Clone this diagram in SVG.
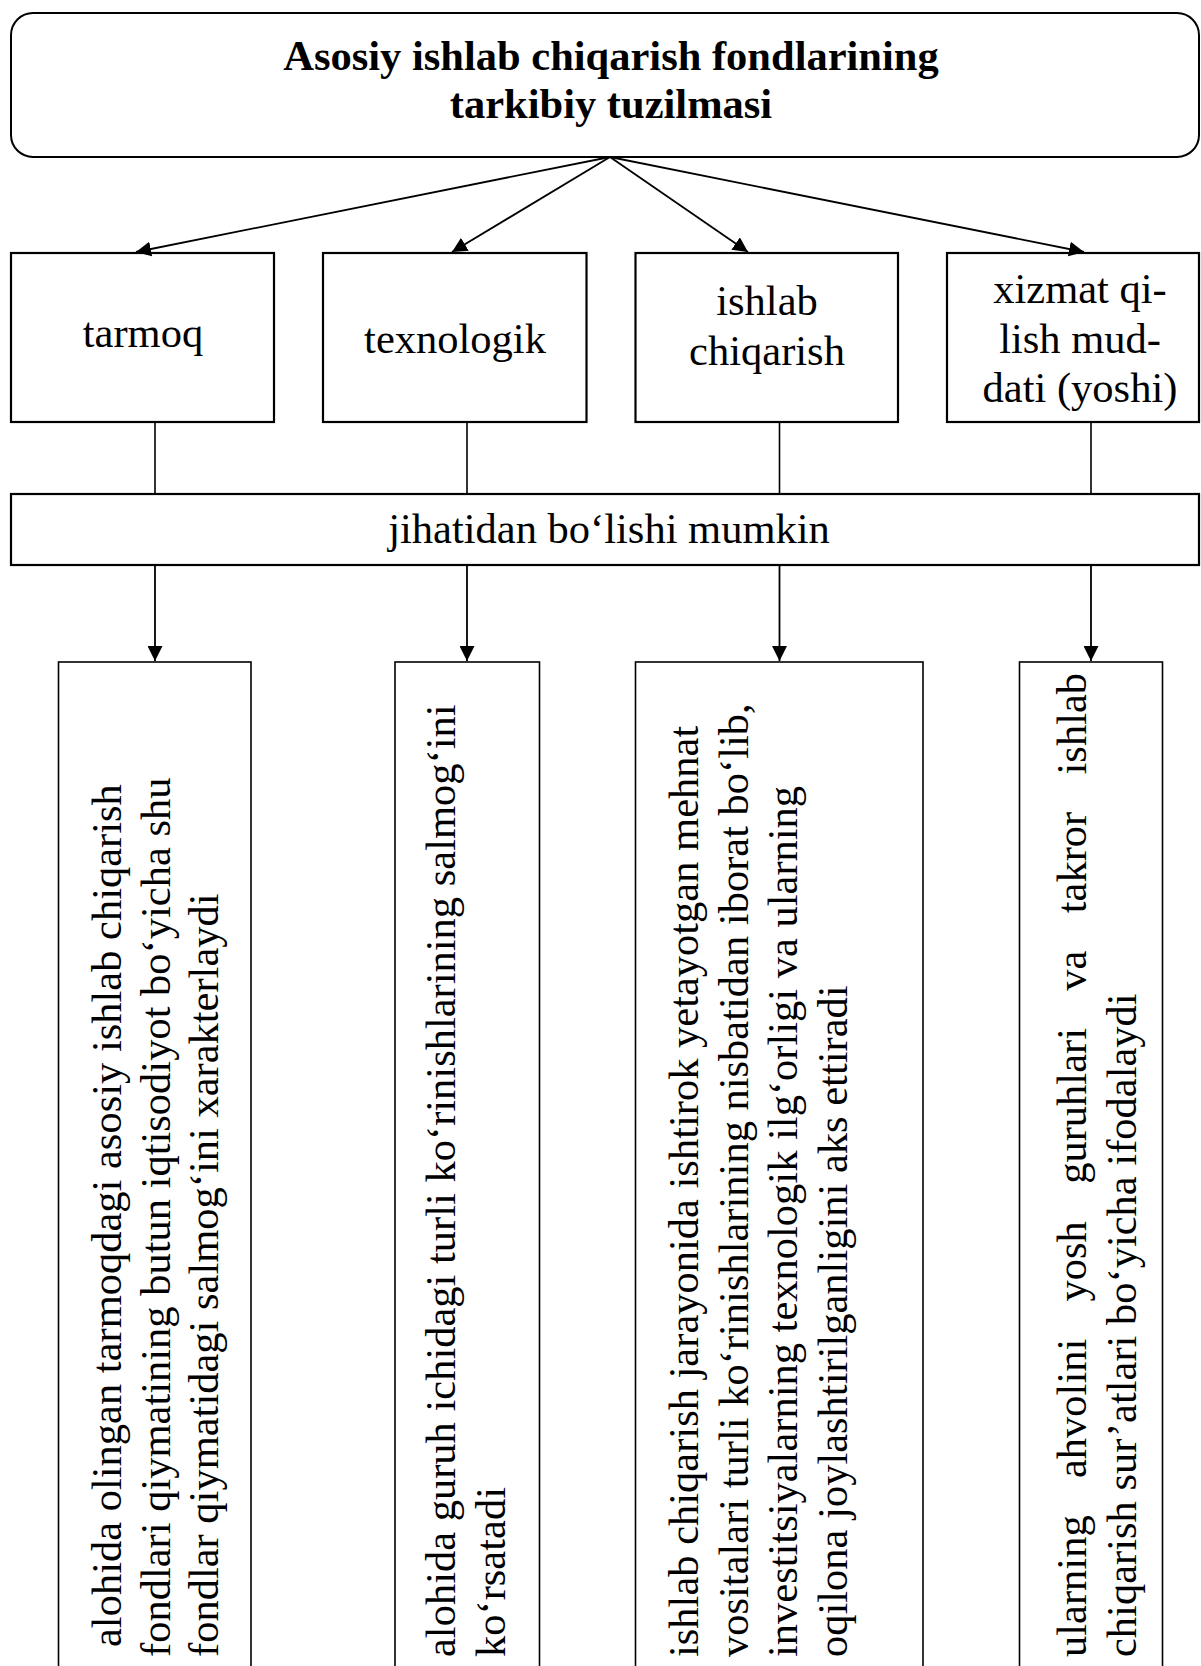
<svg xmlns="http://www.w3.org/2000/svg" width="1201" height="1666" viewBox="0 0 1201 1666">
<style>
.box{fill:#fff;stroke:#000;stroke-width:2.2}
.lbox{fill:#fff;stroke:#000;stroke-width:1.6}
.t{font-family:"Liberation Serif","Times New Roman",serif;font-size:42.5px;fill:#000}
.c{text-anchor:middle}
.b{font-weight:bold}
.con{stroke:#000;stroke-width:1.6;fill:none}
.arr{stroke:#000;stroke-width:1.8;fill:none;marker-end:url(#ah)}
</style>
<defs>
<marker id="ah" markerWidth="16" markerHeight="15" refX="15" refY="7.5" orient="auto" markerUnits="userSpaceOnUse">
<path d="M0,0 L15,7.5 L0,15 z" fill="#000"/>
</marker>
</defs>
<rect width="1201" height="1666" fill="#fff"/>

<g id="title">
<rect x="11" y="13" width="1188" height="144" rx="22" ry="22" class="box" style="stroke-width:2"/>
<text class="t c b" x="611" y="70">Asosiy ishlab chiqarish fondlarining</text>
<text class="t c b" x="611" y="118">tarkibiy tuzilmasi</text>
</g>

<g id="n-tarmoq">
<rect x="11" y="253" width="263" height="169" class="box"/>
<text class="t c" x="143" y="347">tarmoq</text>
</g>
<g id="n-texnologik">
<rect x="323" y="253" width="263.5" height="169" class="box"/>
<text class="t c" x="455" y="353">texnologik</text>
</g>
<g id="n-ishlab">
<rect x="635.5" y="253" width="262.5" height="169" class="box"/>
<text class="t c" x="767" y="315">ishlab</text>
<text class="t c" x="767" y="365">chiqarish</text>
</g>
<g id="n-xizmat">
<rect x="947" y="253" width="252" height="169" class="box"/>
<text class="t c" x="1080" y="303">xizmat qi-</text>
<text class="t c" x="1080" y="353">lish mud-</text>
<text class="t c" x="1080" y="402">dati (yoshi)</text>
</g>

<g id="n-jihatidan">
<rect x="11" y="494" width="1188" height="71" class="box"/>
<text class="t c" x="609" y="543">jihatidan bo‘lishi mumkin</text>
</g>

<g id="d-tarmoq">
<rect x="58.5" y="662" width="192.5" height="1020" class="lbox"/>
<g transform="translate(121,1657) rotate(-90)"><text class="t" x="10" y="0">alohida olingan tarmoqdagi asosiy ishlab chiqarish</text></g>
<g transform="translate(169.5,1657) rotate(-90)"><text class="t" x="0" y="0">fondlari qiymatining butun iqtisodiyot bo‘yicha shu</text></g>
<g transform="translate(218,1657) rotate(-90)"><text class="t" x="0" y="0">fondlar qiymatidagi salmog‘ini xarakterlaydi</text></g>
</g>
<g id="d-texnologik">
<rect x="395" y="662" width="144.5" height="1020" class="lbox"/>
<g transform="translate(455,1657) rotate(-90)"><text class="t" x="0" y="0">alohida guruh ichidagi turli ko‘rinishlarining salmog‘ini</text></g>
<g transform="translate(505,1657) rotate(-90)"><text class="t" x="0" y="0">ko‘rsatadi</text></g>
</g>
<g id="d-ishlab">
<rect x="635.5" y="662" width="287.5" height="1020" class="lbox"/>
<g transform="translate(698,1657) rotate(-90)"><text class="t" x="0" y="0">ishlab chiqarish jarayonida ishtirok yetayotgan mehnat</text></g>
<g transform="translate(747.5,1657) rotate(-90)"><text class="t" x="0" y="0">vositalari turli ko‘rinishlarining nisbatidan iborat bo‘lib,</text></g>
<g transform="translate(797,1657) rotate(-90)"><text class="t" x="0" y="0">investitsiyalarning texnologik ilg‘orligi va ularning</text></g>
<g transform="translate(846.5,1657) rotate(-90)"><text class="t" x="0" y="0">oqilona joylashtirilganligini aks ettiradi</text></g>
</g>
<g id="d-xizmat">
<rect x="1019.5" y="662" width="143" height="1020" class="lbox"/>
<g transform="translate(1086,1657) rotate(-90)"><text class="t" x="0" y="0" style="word-spacing:26.7px">ularning ahvolini yosh guruhlari va takror ishlab</text></g>
<g transform="translate(1136,1657) rotate(-90)"><text class="t" x="0" y="0">chiqarish sur’atlari bo‘yicha ifodalaydi</text></g>
</g>

<g id="connectors">
<line x1="610" y1="157" x2="136" y2="252" class="arr"/>
<line x1="610" y1="157" x2="452" y2="252" class="arr"/>
<line x1="610" y1="157" x2="748" y2="252" class="arr"/>
<line x1="610" y1="157" x2="1084" y2="252" class="arr"/>
<line x1="155" y1="422" x2="155" y2="494" class="con"/>
<line x1="467" y1="422" x2="467" y2="494" class="con"/>
<line x1="779.5" y1="422" x2="779.5" y2="494" class="con"/>
<line x1="1091" y1="422" x2="1091" y2="494" class="con"/>
<line x1="155" y1="565" x2="155" y2="661" class="arr"/>
<line x1="467" y1="565" x2="467" y2="661" class="arr"/>
<line x1="779.5" y1="565" x2="779.5" y2="661" class="arr"/>
<line x1="1091" y1="565" x2="1091" y2="661" class="arr"/>
</g>
</svg>
